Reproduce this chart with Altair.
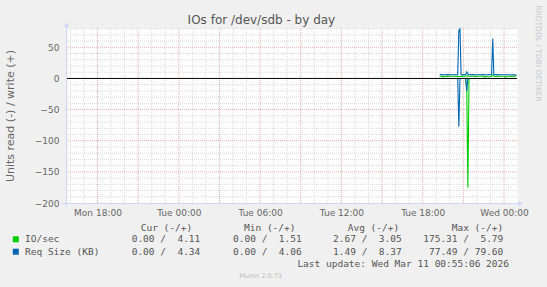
import altair as alt
import pandas as pd

# ---------------- data ----------------
title_text = "IOs for /dev/sdb - by day"
y_title = "Units read (-) / write (+)"
side_text = "RRDTOOL / TOBI OETIKER"
footer_text = "Munin 2.0.73"
last_update = "Last update: Wed Mar 11 00:55:06 2026"

times = [
    "2026-03-10T19:15:00Z", "2026-03-10T19:25:00Z", "2026-03-10T19:30:00Z", "2026-03-10T19:35:00Z",
    "2026-03-10T19:50:00Z", "2026-03-10T20:05:00Z", "2026-03-10T20:20:00Z", "2026-03-10T20:35:00Z",
    "2026-03-10T20:40:00Z", "2026-03-10T20:45:00Z", "2026-03-10T20:50:00Z", "2026-03-10T21:00:00Z",
    "2026-03-10T21:10:00Z", "2026-03-10T21:15:00Z", "2026-03-10T21:20:00Z", "2026-03-10T21:25:00Z",
    "2026-03-10T21:40:00Z", "2026-03-10T21:55:00Z", "2026-03-10T22:10:00Z", "2026-03-10T22:25:00Z",
    "2026-03-10T22:35:00Z", "2026-03-10T22:45:00Z", "2026-03-10T22:55:00Z", "2026-03-10T23:05:00Z",
    "2026-03-10T23:10:00Z", "2026-03-10T23:15:00Z", "2026-03-10T23:30:00Z", "2026-03-10T23:45:00Z",
    "2026-03-11T00:00:00Z", "2026-03-11T00:05:00Z", "2026-03-11T00:15:00Z", "2026-03-11T00:30:00Z",
    "2026-03-11T00:45:00Z", "2026-03-11T00:55:00Z",
]
io_write = [3.5, 3.6, 2.1, 3.5, 3.4, 3.6, 3.5, 3.4, 3.0, 3.2, 3.5, 3.4, 3.6, 4.6, 3.3, 3.5, 3.6,
            3.4, 3.5, 3.6, 2.2, 3.5, 2.3, 3.5, 5.79, 3.6, 3.4, 3.5, 3.6, 2.2, 3.5, 3.4, 3.6, 4.11]
io_read = [0, 0, 0, 0, 0, 0, 0, 0, 0, 0, 0, 0, 0, 16.0, 175.31, 0, 0,
           0, 0, 0, 0, 0, 0, 0, 0, 0, 0, 0, 0, 0, 0, 0, 0, 0]
req_write = [6.0, 6.1, 5.8, 6.0, 6.2, 6.0, 5.9, 6.1, 77.0, 79.6, 6.0, 6.1, 5.9, 10.6, 7.0, 6.0, 6.1,
             5.9, 6.0, 6.2, 5.8, 6.0, 6.1, 5.9, 64.0, 6.0, 6.1, 5.9, 6.0, 5.8, 5.9, 6.0, 5.7, 5.4]
req_read = [0, 0, 0, 0, 0, 0, 0, 0, 77.49, 0, 0, 0, 0, 20.5, 0, 0, 0,
            0, 0, 0, 0, 0, 0, 0, 0, 0, 0, 0, 0, 0, 0, 0, 0, 0]

series_names = ["IO/sec", "Req Size (KB)"]
series_colors = ["#00CC00", "#0066B3"]
stat_headers = ["Cur (-/+)", "Min (-/+)", "Avg (-/+)", "Max (-/+)"]
stats_rows = [
    ["0.00 /  4.11", "0.00 /  1.51", "2.67 /  3.05", "175.31 /  5.79"],
    ["0.00 /  4.34", "0.00 /  4.06", "1.49 /  8.37", "77.49 / 79.60"],
]
y_ticks = [-200, -150, -100, -50, 0, 50]

# ---------------- frames ----------------
df = pd.DataFrame({
    "time": times,
    "io_w": io_write,
    "io_r": [-v for v in io_read],
    "rq_w": req_write,
    "rq_r": [-v for v in req_read],
})

W, H = 450, 175
L, T = 67, 28

def dt(d, h, m=0, s=0):
    return alt.DateTime(year=2026, month=3, date=d, hours=h, minutes=m, seconds=s, utc=True)

xs = alt.Scale(type="utc", domain=[dt(9, 15, 45), dt(11, 0, 57, 30)])
ys = alt.Scale(domain=[-200, 81], nice=False, zero=False)

tick_times = [dt(9, 18), dt(10, 0), dt(10, 6), dt(10, 12), dt(10, 18), dt(11, 0)]
xaxis = alt.Axis(values=tick_times, labelExpr="utcFormat(datum.value, '%a %H:%M')",
                 ticks=False, domain=False, grid=False, title=None, labelFont="DejaVu Sans",
                 labelFontSize=9, labelColor="#666666", labelPadding=5, labelFlush=False)
yaxis = alt.Axis(values=y_ticks, ticks=False, domain=False, grid=False, title=None,
                 labelFont="DejaVu Sans", labelFontSize=9, labelColor="#666666", labelPadding=8)

hours = pd.date_range("2026-03-09 16:00", "2026-03-11 00:00", freq="1h")
minor_x = pd.DataFrame({"time": [h.strftime("%Y-%m-%dT%H:%M:00Z") for h in hours if h.hour % 3 != 0]})
major_x = pd.DataFrame({"time": [h.strftime("%Y-%m-%dT%H:%M:00Z") for h in hours if h.hour % 3 == 0]})
minor_y = pd.DataFrame({"v": [v for v in range(-190, 81, 10) if v % 50 != 0]})
major_y = pd.DataFrame({"v": [v for v in range(-150, 51, 50) if v != 0]})

GRID = "#DADADA"
MGRID = "#EDB0B0"
AXIS = "#CFD6F8"

def X(field):
    return alt.X(f"{field}:T", scale=xs, axis=xaxis)

def Y(field):
    return alt.Y(f"{field}:Q", scale=ys, axis=yaxis)

layers = []
layers.append(alt.Chart(minor_x).mark_rule(color=GRID, strokeWidth=1, strokeDash=[1, 1])
              .encode(x=X("time")))
layers.append(alt.Chart(minor_y).mark_rule(color=GRID, strokeWidth=1, strokeDash=[1, 1])
              .encode(y=Y("v")))
layers.append(alt.Chart(major_x).mark_rule(color=MGRID, strokeWidth=1, strokeDash=[1, 1])
              .encode(x=X("time")))
layers.append(alt.Chart(major_y).mark_rule(color=MGRID, strokeWidth=1, strokeDash=[1, 1])
              .encode(y=Y("v")))

for field, color in [("io_r", series_colors[0]), ("io_w", series_colors[0]),
                     ("rq_r", series_colors[1]), ("rq_w", series_colors[1])]:
    layers.append(alt.Chart(df).mark_line(color=color, strokeWidth=1.1).encode(
        x=X("time"), y=Y(field)))

layers.append(alt.Chart(pd.DataFrame({"v": [0]})).mark_rule(color="black", strokeWidth=1)
              .encode(y=Y("v")))

one = pd.DataFrame({"a": [0]})
# axis lines and arrows
layers.append(alt.Chart(one).mark_rule(color=AXIS, strokeWidth=1)
              .encode(x=alt.value(-0.5), y=alt.value(-2), y2=alt.value(179)))
layers.append(alt.Chart(one).mark_rule(color=AXIS, strokeWidth=1)
              .encode(x=alt.value(-5), x2=alt.value(452), y=alt.value(175.5)))
layers.append(alt.Chart(one).mark_point(shape="triangle-up", filled=True, color=AXIS, size=28, opacity=1)
              .encode(x=alt.value(-0.5), y=alt.value(-3.5)))
layers.append(alt.Chart(one).mark_point(shape="triangle-right", filled=True, color=AXIS, size=28, opacity=1)
              .encode(x=alt.value(453.5), y=alt.value(175.5)))

def text(s, x, y, size, color, font="DejaVu Sans", align="left", baseline="middle", angle=0):
    kw = dict(align=align, baseline=baseline, font=font, fontSize=size, color=color)
    if angle:
        kw["angle"] = angle
    return alt.Chart(one).mark_text(**kw).encode(
        x=alt.value(x), y=alt.value(y), text=alt.value(s))

layers.append(text(title_text, 261.4 - L, 24.3 - T, 12, "#555555", align="center", baseline="alphabetic"))
layers.append(text(y_title, 11 - L, 116 - T, 11, "#666666", align="center", angle=270))
layers.append(text(side_text, 538 - L, 53.5 - T, 7.5, "#C8C8C8", align="center", angle=90))
layers.append(text(footer_text, 260.7 - L, 275.7 - T, 6.5, "#BBBBBB", align="center"))

MONO = "DejaVu Sans Mono"
FS = 9.5
header_left = [140.7, 244, 347.7, 451.7]
value_right = [200.3, 301.7, 401.7, 503.3]
row_y = [239.3, 251.7]
for hx, h in zip(header_left, stat_headers):
    layers.append(text(h.replace(" ", "\u00a0"), hx - L, 227.7 - T, FS, "#555555", font=MONO))
for ri, (name, color, row) in enumerate(zip(series_names, series_colors, stats_rows)):
    yy = row_y[ri] - T
    layers.append(alt.Chart(one).mark_square(color=color, size=36, opacity=1)
                  .encode(x=alt.value(15.8 - L), y=alt.value(yy)))
    layers.append(text(name.replace(" ", "\u00a0"), 25 - L, yy, FS, "#555555", font=MONO))
    for vx, v in zip(value_right, row):
        layers.append(text(v.replace(" ", "\u00a0"), vx - L, yy, FS, "#555555", font=MONO, align="right"))
layers.append(text(last_update.replace(" ", "\u00a0"), 509 - L, 264 - T, FS, "#555555", font=MONO, align="right"))

chart = alt.layer(*layers).properties(
    width=W, height=H,
    background="#F0F0F0",
    padding={"left": L, "top": T, "right": 547 - L - W, "bottom": 287 - T - H},
    autosize=alt.AutoSizeParams(type="none"),
).configure_view(fill="white", stroke="transparent")

chart.save("out.html", embed_options={"renderer": "svg", "actions": False})
